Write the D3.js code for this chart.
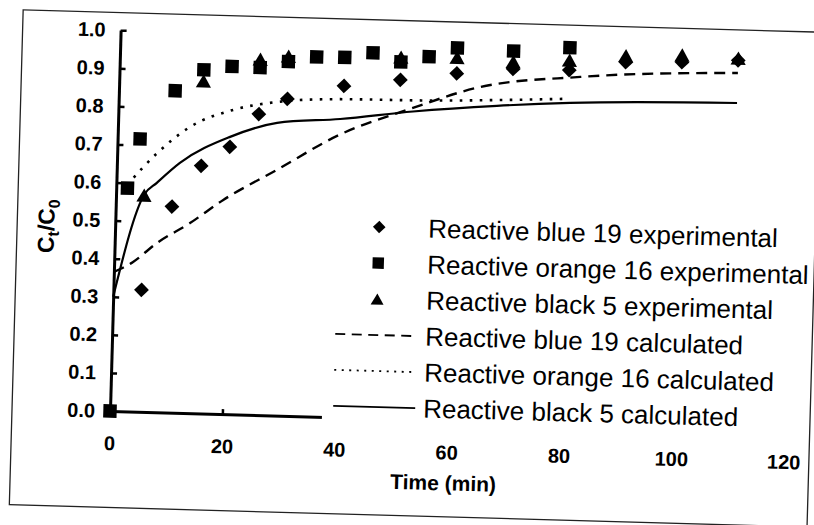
<!DOCTYPE html>
<html>
<head>
<meta charset="utf-8">
<script src="https://cdn.jsdelivr.net/npm/d3@7"></script>
<style>
  html, body { margin: 0; padding: 0; background: #fff; }
  svg { display: block; }
</style>
</head>
<body>
<svg id="chart" width="814" height="525"></svg>
<script>
// ---- data -------------------------------------------------------------
const timeTicks  = [0, 20, 40, 60, 80, 100, 120];
const valueTicks = [0.0, 0.1, 0.2, 0.3, 0.4, 0.5, 0.6, 0.7, 0.8, 0.9, 1.0];

// experimental points: Reactive blue 19 (diamonds)
const blueExpTime  = [5, 10, 15, 20, 25, 30, 40, 50, 60, 70, 80, 90, 100, 110];
const blueExpValue = [0.320, 0.541, 0.650, 0.702, 0.790, 0.832, 0.870, 0.890, 0.911, 0.927, 0.928, 0.953, 0.957, 0.966];

// experimental points: Reactive orange 16 (squares)
const orangeExpTime  = [0, 2, 4, 10, 15, 20, 25, 30, 35, 40, 45, 50, 55, 60, 70, 80];
const orangeExpValue = [0.000, 0.586, 0.716, 0.845, 0.902, 0.913, 0.912, 0.930, 0.944, 0.945, 0.959, 0.937, 0.953, 0.978, 0.974, 0.987];

// experimental points: Reactive black 5 (triangles)
const blackExpTime  = [5, 15, 25, 30, 50, 60, 70, 80, 90, 100, 110];
const blackExpValue = [0.569, 0.873, 0.934, 0.944, 0.950, 0.953, 0.946, 0.954, 0.970, 0.976, 0.972];

// model curves
const blueCalcTime  = [0, 3.3, 7.5, 13.3, 19.1, 28.5, 39.5, 51.4, 64.2, 82, 110];
const blueCalcValue = [0.365, 0.392, 0.444, 0.499, 0.562, 0.645, 0.742, 0.812, 0.877, 0.911, 0.933];

const orangeCalcTime  = [1.9, 7.1, 12.8, 20.4, 28.2, 39.4, 55, 79];
const orangeCalcValue = [0.594, 0.680, 0.751, 0.799, 0.823, 0.835, 0.838, 0.852];

const blackCalcTime  = [0, 5, 7.2, 11.2, 20, 28.3, 39.5, 52.4, 67.3, 80.3, 110];
const blackCalcValue = [0.300, 0.570, 0.602, 0.656, 0.728, 0.768, 0.783, 0.808, 0.829, 0.842, 0.854];

const legendLabels = [
  "Reactive blue 19 experimental",
  "Reactive orange 16 experimental",
  "Reactive black 5 experimental",
  "Reactive blue 19 calculated",
  "Reactive orange 16 calculated",
  "Reactive black 5 calculated"
];

// ---- layout -----------------------------------------------------------
const FONT = "'Liberation Sans', Arial, Helvetica, sans-serif";
const originX = 110, originY = 411;
const x = d3.scaleLinear().domain([0, 120]).range([originX, originX + 120 * 5.62]);
const y = d3.scaleLinear().domain([0, 1]).range([originY, 30]);

const svg = d3.select("#chart");
svg.append("rect").attr("width", 814).attr("height", 525).attr("fill", "#fff");

// the whole figure sits slightly tilted on the page
const g = svg.append("g").attr("transform", `rotate(1.6, ${originX}, ${originY})`);

// outer frame
g.append("rect")
  .attr("x", 12).attr("y", 12.5).attr("width", 798).attr("height", 495)
  .attr("fill", "none").attr("stroke", "#222").attr("stroke-width", 1.3);

// ---- axes -------------------------------------------------------------
const yAxis = d3.axisLeft(y)
  .tickValues(valueTicks)
  .tickFormat(d3.format(".1f"))
  .tickSizeInner(-6)
  .tickSizeOuter(0)
  .tickPadding(15);

const yAxisG = g.append("g").attr("transform", `translate(${originX},0)`).call(yAxis);
yAxisG.select(".domain").attr("stroke", "#000").attr("stroke-width", 3);
yAxisG.selectAll(".tick line").attr("stroke", "#000").attr("stroke-width", 2.5);
yAxisG.selectAll(".tick text")
  .attr("font-family", FONT).attr("font-size", 20).attr("font-weight", "bold").attr("fill", "#000");

const xAxis = d3.axisBottom(x)
  .tickValues(timeTicks)
  .tickFormat(d3.format("d"))
  .tickSizeInner(-5)
  .tickSizeOuter(0)
  .tickPadding(25);

const xAxisG = g.append("g").attr("transform", `translate(0,${originY})`).call(xAxis);
xAxisG.select(".domain").attr("stroke", "#000").attr("stroke-width", 3);
xAxisG.selectAll(".tick line").attr("stroke", "#000").attr("stroke-width", 2.5);
xAxisG.selectAll(".tick text")
  .attr("font-family", FONT).attr("font-size", 20).attr("font-weight", "bold").attr("fill", "#000");

// axis titles
g.append("text")
  .attr("x", 445).attr("y", 481)
  .attr("text-anchor", "middle")
  .attr("font-family", FONT).attr("font-size", 21).attr("font-weight", "bold")
  .text("Time (min)");

const yTitle = g.append("text")
  .attr("transform", "translate(49,228) rotate(-90)")
  .attr("text-anchor", "middle")
  .attr("font-family", FONT).attr("font-size", 23).attr("font-weight", "bold");
yTitle.append("tspan").text("C");
yTitle.append("tspan").attr("font-size", 16).attr("dy", 5).text("t");
yTitle.append("tspan").attr("dy", -5).text("/C");
yTitle.append("tspan").attr("font-size", 16).attr("dy", 5).text("0");

// ---- marker shapes -----------------------------------------------------
const diamondShape = {
  draw(ctx, r) {
    ctx.moveTo(0, -r); ctx.lineTo(r, 0); ctx.lineTo(0, r); ctx.lineTo(-r, 0); ctx.closePath();
  }
};
const squareShape = {
  draw(ctx, r) {
    ctx.moveTo(-r, -r); ctx.lineTo(r, -r); ctx.lineTo(r, r); ctx.lineTo(-r, r); ctx.closePath();
  }
};
const triangleShape = {
  draw(ctx, r) {
    const h = r * 0.87;
    ctx.moveTo(0, -h); ctx.lineTo(r, h); ctx.lineTo(-r, h); ctx.closePath();
  }
};

const seriesPoints = [
  { time: blueExpTime,   value: blueExpValue,   shape: diamondShape,  r: 7.4 },
  { time: orangeExpTime, value: orangeExpValue, shape: squareShape,   r: 6.7 },
  { time: blackExpTime,  value: blackExpValue,  shape: triangleShape, r: 7.6 }
];

const seriesLines = [
  { time: blueCalcTime,   value: blueCalcValue,   dash: "11,7",    width: 2.4 },
  { time: orangeCalcTime, value: orangeCalcValue, dash: "2.6,7.4", width: 2.6 },
  { time: blackCalcTime,  value: blackCalcValue,  dash: null,      width: 2.2 }
];

// ---- model curves -----------------------------------------------------
const line = d3.line()
  .x(d => x(d[0]))
  .y(d => y(d[1]))
  .curve(d3.curveMonotoneX);

seriesLines.forEach(s => {
  const pts = s.time.map((t, i) => [t, s.value[i]]);
  g.append("path")
    .attr("d", line(pts))
    .attr("fill", "none")
    .attr("stroke", "#000")
    .attr("stroke-width", s.width)
    .attr("stroke-dasharray", s.dash);
});

// ---- experimental markers --------------------------------------------
seriesPoints.forEach(s => {
  const sym = d3.symbol().type(s.shape).size(s.r);
  g.append("g").selectAll("path")
    .data(s.time.map((t, i) => [t, s.value[i]]))
    .join("path")
    .attr("transform", d => `translate(${x(d[0])},${y(d[1])})`)
    .attr("d", sym)
    .attr("fill", "#000");
});

// ---- legend -----------------------------------------------------------
const legend = g.append("g");
legend.append("rect")
  .attr("x", 322).attr("y", 200).attr("width", 486).attr("height", 228)
  .attr("fill", "#fff");

const rowY = i => 219.6 + 36 * i;
const symX = 374, lineX0 = 333, lineX1 = 415, textX = 423;

seriesPoints.forEach((s, i) => {
  legend.append("path")
    .attr("transform", `translate(${symX},${rowY(i)})`)
    .attr("d", d3.symbol().type(s.shape).size(s.r * 0.85)())
    .attr("fill", "#000");
});
const legendDash = ["10,6.5", "2,5.5", null];
seriesLines.forEach((s, i) => {
  legend.append("line")
    .attr("x1", lineX0).attr("x2", lineX1)
    .attr("y1", rowY(i + 3)).attr("y2", rowY(i + 3))
    .attr("stroke", "#000").attr("stroke-width", 1.8)
    .attr("stroke-dasharray", legendDash[i]);
});
legendLabels.forEach((label, i) => {
  legend.append("text")
    .attr("x", textX).attr("y", rowY(i)).attr("dy", "0.35em")
    .attr("font-family", FONT).attr("font-size", 26).attr("fill", "#000")
    .text(label);
});
</script>
</body>
</html>
